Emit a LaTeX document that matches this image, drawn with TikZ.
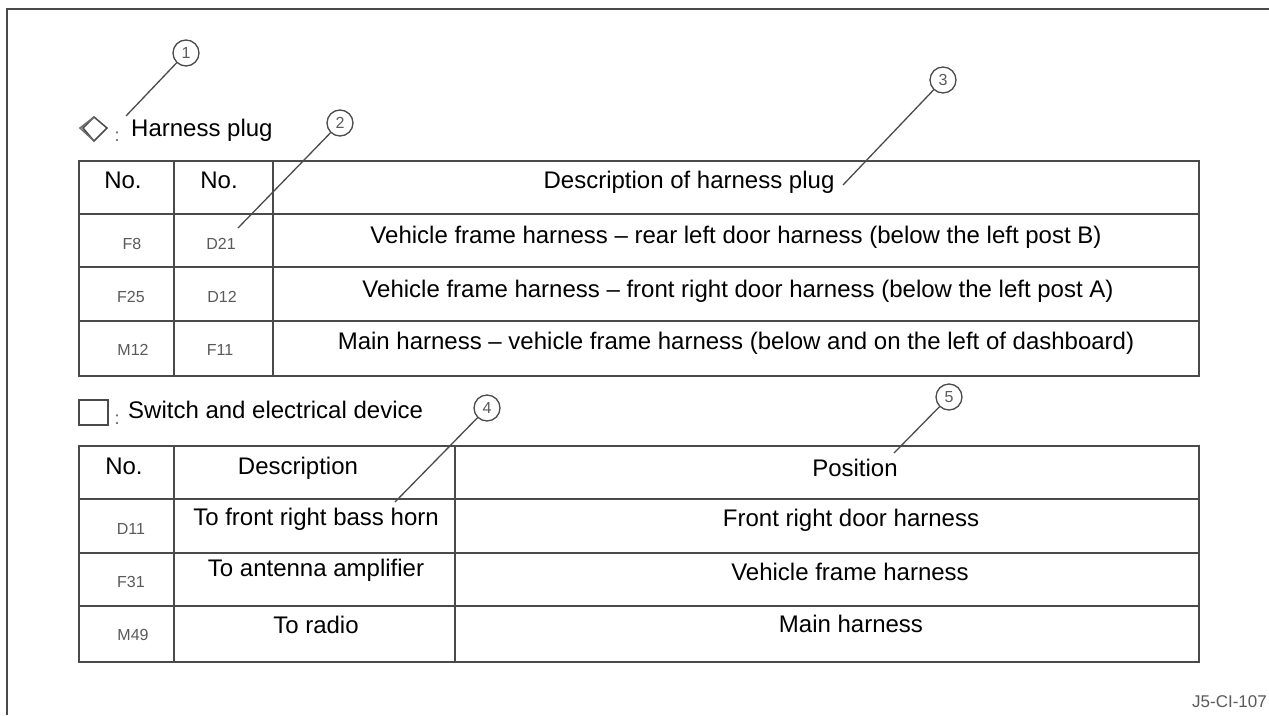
\documentclass[tikz,border=0pt]{standalone}
\usepackage{fontspec}
\setmainfont{Liberation Sans}
\newcommand{\bigfont}{\fontsize{24}{28}\selectfont}
\newcommand{\smallfont}{\fontsize{16}{18}\selectfont}
\definecolor{lineC}{HTML}{4A4A4A}
\definecolor{smallC}{HTML}{5A5A5A}
\tikzset{
  rule/.style={draw=lineC,line width=1.7pt},
  label/.style={inner sep=0pt,text=black,font=\bigfont,anchor=base},
  code/.style={inner sep=0pt,text=smallC,font=\smallfont,anchor=base},
  callout/.style={circle,draw=lineC,line width=1.3pt,fill=none,minimum size=26pt,inner sep=0pt,text=smallC,font=\smallfont},
  leader/.style={draw=lineC,line width=1.3pt},
}
\begin{document}
\begin{tikzpicture}[x=1pt,y=-1pt]
\useasboundingbox (0,0) rectangle (1269,715);
\fill[white] (0,0) rectangle (1269,715);
% frame
\coordinate (fA) at (7,715); \coordinate (fB) at (7,9); \coordinate (fC) at (1269,9);
\draw[draw=lineC,line width=1.3pt] (fA) -- (fB) -- (fC);
% table 1
\draw[rule] (79,161) rectangle (1199,376);
\foreach \y in {214,267,321} \draw[rule] (79,\y) -- (1199,\y);
\foreach \x in {174,273} \draw[rule] (\x,161) -- (\x,376);
% table 2
\draw[rule] (79,446) rectangle (1199,662);
\foreach \y in {499,553,606} \draw[rule] (79,\y) -- (1199,\y);
\foreach \x in {174,455} \draw[rule] (\x,446) -- (\x,662);
% symbols
\draw[draw=lineC,line width=1.5pt] (83,128) -- (94,117) -- (107,128) -- (94,141) -- cycle;
\draw[draw=lineC!80,line width=1.5pt] (94,117) -- (80,128) -- (94,141);
\node[inner sep=0pt,text=smallC,font=\fontsize{18}{20}\selectfont,anchor=base] (colA) at (117,141) {:};
\draw[draw=lineC,line width=1.5pt] (79,400) rectangle (108,425);
\node[inner sep=0pt,text=smallC,font=\fontsize{18}{20}\selectfont,anchor=base] (colB) at (117,424) {:};
% headings
\node[label,anchor=base west] (t1) at (131,136) {Harness plug};
\node[label,anchor=base west] (t2) at (128,418) {Switch and electrical device};
% table 1 text
\node[label] (h1) at (123,188) {No.};
\node[label] (h2) at (219,188) {No.};
\node[label] (h3) at (689,188) {Description of harness plug};
\node[code] (a1) at (132,249) {F8};
\node[code] (b1) at (221,249) {D21};
\node[label] (c1) at (736,243) {Vehicle frame harness – rear left door harness (below the left post B)};
\node[code] (a2) at (131,302) {F25};
\node[code] (b2) at (222,302) {D12};
\node[label] (c2) at (738,297) {Vehicle frame harness – front right door harness (below the left post A)};
\node[code] (a3) at (133,355) {M12};
\node[code] (b3) at (220,355) {F11};
\node[label] (c3) at (736,349) {Main harness – vehicle frame harness (below and on the left of dashboard)};
% table 2 text
\node[label] (h4) at (124,474) {No.};
\node[label] (h5) at (298,474) {Description};
\node[label] (h6) at (855,476) {Position};
\node[code] (d1) at (131,534) {D11};
\node[label] (e1) at (316,525) {To front right bass horn};
\node[label] (f1) at (851,526) {Front right door harness};
\node[code] (d2) at (131,587) {F31};
\node[label] (e2) at (316,576) {To antenna amplifier};
\node[label] (f2) at (850,580) {Vehicle frame harness};
\node[code] (d3) at (133,640) {M49};
\node[label] (e3) at (316,633) {To radio};
\node[label] (f3) at (851,632) {Main harness};
% callouts
\node[callout] (n1) at (186,53) {1};
\node[callout] (n2) at (340,123) {2};
\node[callout] (n3) at (943,80) {3};
\node[callout] (n4) at (487,408) {4};
\node[callout] (n5) at (949,397) {5};
\coordinate (p1) at (126,116);
\coordinate (p2) at (238,228);
\coordinate (p3) at (843,185);
\coordinate (p4) at (395,502);
\coordinate (p5) at (894,453);
\draw[leader] (n1) -- (p1);
\draw[leader] (n2) -- (p2);
\draw[leader] (n3) -- (p3);
\draw[leader] (n4) -- (p4);
\draw[leader] (n5) -- (p5);
\node[inner sep=0pt,text=smallC,font=\fontsize{17}{19}\selectfont,anchor=base east] (ref) at (1267,707) {J5-CI-107};
\end{tikzpicture}
\end{document}
